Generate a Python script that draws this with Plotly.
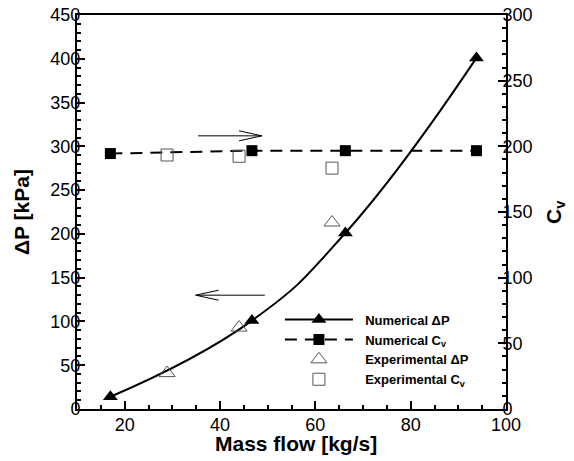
import plotly.graph_objects as go

# Data
num_flow = [17.0, 46.7, 66.3, 93.8]
num_dp = [14, 101, 201, 401]
num_cv = [194.5, 196.7, 196.7, 196.7]

exp_flow = [28.9, 44.0, 63.5]
exp_dp = [41, 93, 213]
exp_cv = [193.4, 192.4, 183.4]

x_ticks = [20, 40, 60, 80, 100]
y_ticks = [0, 50, 100, 150, 200, 250, 300, 350, 400, 450]
y2_ticks = [0, 50, 100, 150, 200, 250, 300]

FONT = "Liberation Sans, Arial, sans-serif"
SP = "\u00a0\u00a0"

fig = go.Figure()

fig.add_trace(go.Scatter(
    x=num_flow, y=num_dp, name=SP + "<b>Numerical ΔP</b>", mode="lines+markers",
    line=dict(color="black", width=2, shape="spline", smoothing=1.3),
    marker=dict(symbol="triangle-up", size=13, color="black"),
))
fig.add_trace(go.Scatter(
    x=num_flow, y=num_cv, name=SP + "<b>Numerical C<sub>v</sub></b>", mode="lines+markers",
    yaxis="y2",
    line=dict(color="black", width=2, dash="12px,8px"),
    marker=dict(symbol="square", size=11, color="black"),
))
fig.add_trace(go.Scatter(
    x=exp_flow, y=exp_dp, name=SP + "<b>Experimental ΔP</b>", mode="markers",
    marker=dict(symbol="triangle-up-open", size=14, color="#555", line=dict(width=1)),
))
fig.add_trace(go.Scatter(
    x=exp_flow, y=exp_cv, name=SP + "<b>Experimental C<sub>v</sub></b>", mode="markers",
    yaxis="y2",
    marker=dict(symbol="square-open", size=12, color="#555", line=dict(width=1)),
))

# Direction arrows (annotation shapes)
arrow_right = dict(x0=35.4, x1=48.8, y=208, yref="y2", dx=4.8, dy=3.8)
arrow_left = dict(x0=49.4, x1=34.9, y=130, yref="y", dx=-4.8, dy=5.7)
for a in (arrow_right, arrow_left):
    fig.add_shape(type="line", xref="x", yref=a["yref"], x0=a["x0"], x1=a["x1"],
                  y0=a["y"], y1=a["y"], line=dict(color="black", width=1))
    for s in (1, -1):
        fig.add_shape(type="line", xref="x", yref=a["yref"], x0=a["x1"] - a["dx"], x1=a["x1"],
                      y0=a["y"] + s * a["dy"], y1=a["y"], line=dict(color="black", width=1))

axis_common = dict(
    showline=True, linecolor="black", linewidth=2,
    ticks="inside", ticklen=8, tickwidth=1.5, tickcolor="black",
    showgrid=False, zeroline=False, automargin=False,
    ticklabeloverflow="allow",
    tickfont=dict(family=FONT, size=18, color="black"),
)

title_font = dict(family=FONT, size=21, color="black")
fig.add_annotation(text="<b>Mass flow [kg/s]</b>", xref="paper", yref="paper",
                   x=0.51, y=0, yanchor="middle", xanchor="center", yshift=-34,
                   showarrow=False, font=title_font)
fig.add_annotation(text="<b>ΔP [kPa]</b>", xref="paper", yref="paper",
                   x=0, y=0.5, xanchor="center", yanchor="middle", xshift=-56,
                   textangle=-90, showarrow=False, font=title_font)
fig.add_annotation(text="<b>C<sub>v</sub></b>", xref="paper", yref="paper",
                   x=1, y=0.5, xanchor="center", yanchor="middle", xshift=49,
                   textangle=-90, showarrow=False, font=title_font)

fig.update_layout(
    width=566, height=453,
    margin=dict(l=69, r=68, t=7, b=52),
    paper_bgcolor="white", plot_bgcolor="white",
    font=dict(family=FONT, color="black"),
    showlegend=True,
    legend=dict(
        x=0.473, y=0.265, xanchor="left", yanchor="top",
        bgcolor="rgba(0,0,0,0)", font=dict(family=FONT, size=13, color="black"),
        itemwidth=68, tracegroupgap=0, itemsizing="trace",
    ),
    xaxis=dict(
        range=[10, 100], tickvals=x_ticks, mirror=True, ticklabelstandoff=-2,
        minor=dict(dtick=5, ticks="inside", ticklen=4, tickcolor="black"),
        **axis_common,
    ),
    yaxis=dict(
        range=[0, 450], tickvals=y_ticks, ticklabelstandoff=-9,
        minor=dict(dtick=10, ticks="inside", ticklen=4, tickcolor="black"),
        **axis_common,
    ),
    yaxis2=dict(
        range=[0, 300], tickvals=y2_ticks, overlaying="y", side="right",
        ticklabelstandoff=-9,
        minor=dict(dtick=10, ticks="inside", ticklen=4, tickcolor="black"),
        **axis_common,
    ),
)

fig.write_html("out.html")
